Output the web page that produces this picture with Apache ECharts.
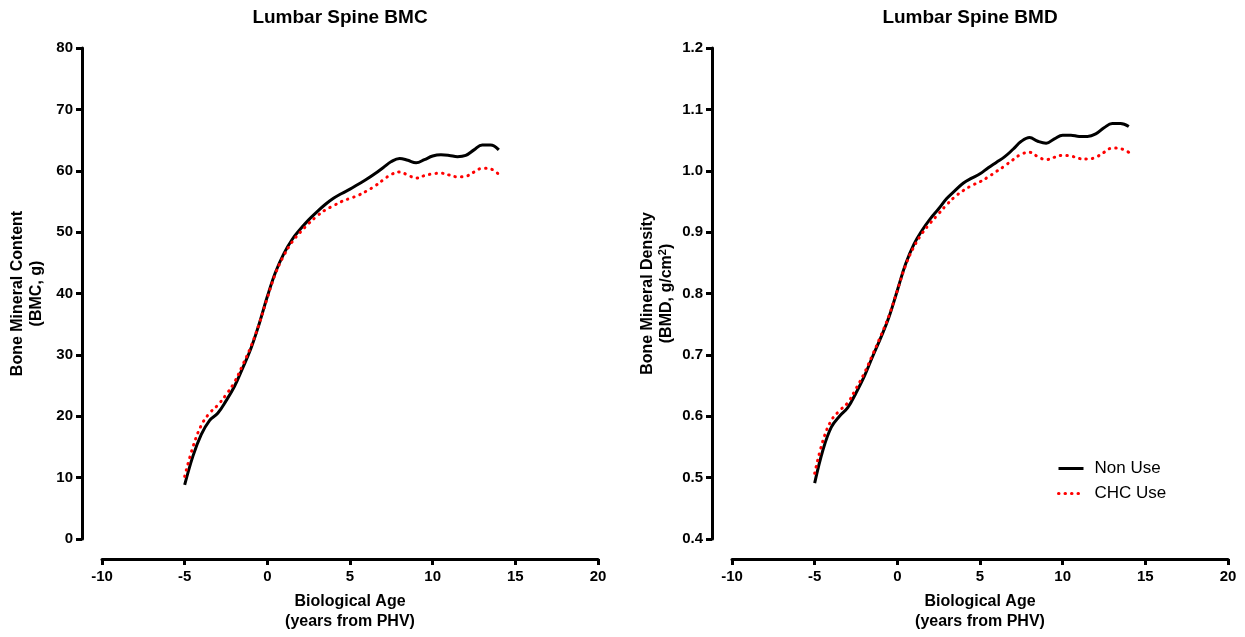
<!DOCTYPE html>
<html>
<head>
<meta charset="utf-8">
<script src="https://cdn.jsdelivr.net/npm/echarts@6/dist/echarts.min.js"></script>
<style>
html,body{margin:0;padding:0;background:#fff;}
#chart{width:1245px;height:637px;}
</style>
</head>
<body>
<div id="chart"></div>
<script>
// Biological age (years from PHV)
const ages = [-5,-4.5,-4,-3.5,-3,-2.5,-2,-1.5,-1,-0.5,0,0.5,1,1.5,2,2.5,3,3.5,4,4.5,5,5.5,6,6.5,7,7.5,8,8.5,9,9.5,10,10.5,11,11.5,12,12.5,13,13.5,14];

// Lumbar spine BMC (g)
const bmcNonUse = [8.8,13.5,17.0,19.3,20.5,22.5,24.8,27.8,31.0,35.0,39.5,43.5,46.5,48.8,50.5,52.0,53.3,54.5,55.5,56.3,57.0,57.8,58.6,59.5,60.5,61.5,62.0,61.7,61.3,61.8,62.4,62.6,62.5,62.3,62.5,63.4,64.2,64.2,63.4];
const bmcCHCUse = [10.2,15.0,18.5,20.5,21.8,23.5,25.5,28.3,31.3,35.0,39.3,43.3,46.2,48.4,50.0,51.4,52.6,53.6,54.3,55.0,55.5,56.0,56.7,57.5,58.5,59.4,59.8,59.3,58.8,59.2,59.5,59.6,59.3,59.0,59.1,59.8,60.4,60.3,59.4];

// Lumbar spine BMD (g/cm2)
const bmdNonUse = [0.491,0.545,0.582,0.600,0.614,0.638,0.665,0.697,0.728,0.762,0.805,0.848,0.880,0.903,0.922,0.938,0.955,0.968,0.980,0.988,0.995,1.005,1.014,1.023,1.035,1.048,1.054,1.048,1.045,1.052,1.058,1.058,1.056,1.056,1.060,1.070,1.077,1.077,1.072];
const bmdCHCUse = [0.507,0.560,0.593,0.609,0.622,0.645,0.670,0.700,0.731,0.764,0.805,0.846,0.876,0.898,0.915,0.930,0.945,0.958,0.968,0.976,0.982,0.990,0.999,1.008,1.018,1.027,1.030,1.023,1.018,1.022,1.025,1.024,1.020,1.019,1.022,1.030,1.037,1.036,1.030];

const seriesNames = ['Non Use','CHC Use'];
const chartTitles = ['Lumbar Spine BMC','Lumbar Spine BMD'];

const FONT = '"Liberation Sans", Arial, Helvetica, sans-serif';
const pair = (xs, ys) => xs.map((x,i)=>[x, ys[i]]);

const chart = echarts.init(document.getElementById('chart'), null, {renderer:'canvas'});

function xAxisCfg(gridIndex){
  return {
    type:'value', gridIndex, min:-10, max:20, interval:5, offset:20,
    axisLine:{show:true, onZero:false, lineStyle:{color:'#000', width:3}},
    axisTick:{show:true, length:6, lineStyle:{color:'#000', width:3}},
    axisLabel:{color:'#000', fontFamily:FONT, fontWeight:'bold', fontSize:15, margin:10},
    splitLine:{show:false},
    name:'Biological Age\n(years from PHV)', nameLocation:'middle', nameGap:33,
    nameTextStyle:{color:'#000', fontFamily:FONT, fontWeight:'bold', fontSize:16, lineHeight:20}
  };
}
function yAxisCfg(gridIndex, min, max, interval, name, fmt, rich){
  return {
    type:'value', gridIndex, min, max, interval, offset:20,
    axisLine:{show:true, onZero:false, lineStyle:{color:'#000', width:3}},
    axisTick:{show:true, length:6, lineStyle:{color:'#000', width:3}},
    axisLabel:{color:'#000', fontFamily:FONT, fontWeight:'bold', fontSize:15, margin:9, formatter:fmt},
    splitLine:{show:false},
    name, nameLocation:'middle', nameGap:36, nameRotate:90,
    nameTextStyle:{color:'#000', fontFamily:FONT, fontWeight:'bold', fontSize:16, lineHeight:19, rich}
  };
}

const solid = {color:'#000', width:3, type:'solid'};
const dotted = {color:'#ff0000', width:3, type:[0.5,6], cap:'round'};

const option = {
  animation:false,
  backgroundColor:'#fff',
  grid:[
    {left:102, top:48, width:496, height:495},
    {left:732, top:48, width:496, height:495}
  ],
  xAxis:[xAxisCfg(0), xAxisCfg(1)],
  yAxis:[
    yAxisCfg(0, 0, 80, 10, 'Bone Mineral Content\n(BMC, g)', v=>String(v)),
    yAxisCfg(1, 0.4, 1.2, 0.1, '{a|Bone Mineral Density}\n{a|(BMD, g/cm}{s|2}{a|)}', v=>v.toFixed(1),
      {a:{fontFamily:FONT, fontWeight:'bold', fontSize:16, color:'#000', lineHeight:19},
       s:{fontFamily:FONT, fontWeight:'bold', fontSize:11, color:'#000', verticalAlign:'top', lineHeight:19, padding:[0,0,6,0]}})
  ],
  legend:{
    data:seriesNames, orient:'vertical', left:1052, top:455,
    itemWidth:25, itemHeight:14, itemGap:8,
    itemStyle:{opacity:0},
    lineStyle:{width:3},
    textStyle:{color:'#000', fontFamily:FONT, fontSize:17, padding:[0,0,0,6]}
  },
  graphic:[
    {type:'text', x:340, y:18, style:{text:chartTitles[0], align:'center', verticalAlign:'middle', font:'bold 19px '+FONT, fill:'#000'}},
    {type:'text', x:970, y:18, style:{text:chartTitles[1], align:'center', verticalAlign:'middle', font:'bold 19px '+FONT, fill:'#000'}}
  ],
  series:[
    {name:seriesNames[0], type:'line', xAxisIndex:0, yAxisIndex:0, data:pair(ages,bmcNonUse), smooth:0.4, symbol:'none', lineStyle:solid, itemStyle:{color:'#000'}, z:3},
    {name:seriesNames[1], type:'line', xAxisIndex:0, yAxisIndex:0, data:pair(ages,bmcCHCUse), smooth:0.4, symbol:'none', lineStyle:dotted, itemStyle:{color:'#ff0000'}, z:4},
    {name:seriesNames[0], type:'line', xAxisIndex:1, yAxisIndex:1, data:pair(ages,bmdNonUse), smooth:0.4, symbol:'none', lineStyle:solid, itemStyle:{color:'#000'}, z:3},
    {name:seriesNames[1], type:'line', xAxisIndex:1, yAxisIndex:1, data:pair(ages,bmdCHCUse), smooth:0.4, symbol:'none', lineStyle:dotted, itemStyle:{color:'#ff0000'}, z:4}
  ]
};
chart.setOption(option);
</script>
</body>
</html>
